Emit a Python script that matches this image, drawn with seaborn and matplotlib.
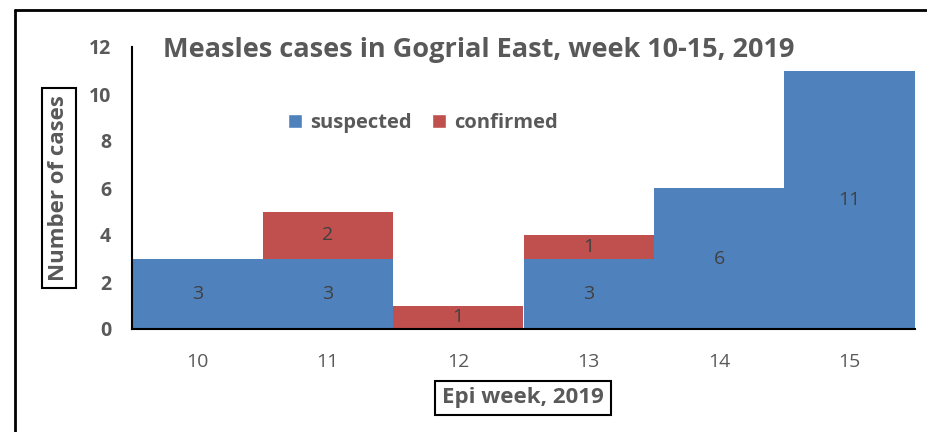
import matplotlib
matplotlib.use("Agg")
import matplotlib.pyplot as plt
import seaborn as sns
import pandas as pd
from matplotlib.patches import Patch

# ---------------------------------------------------------------------------
# Data
# ---------------------------------------------------------------------------
weeks     = ["10", "11", "12", "13", "14", "15"]
suspected = [3, 3, 0, 3, 6, 11]
confirmed = [0, 2, 1, 1, 0, 0]
y_ticks   = [0, 2, 4, 6, 8, 10, 12]

BLUE = "#4F81BD"
RED  = "#C0504D"
GREY = "#595959"

sns.set_style("white")
plt.rcParams["font.family"] = ["Open Sans", "DejaVu Sans"]

df = pd.DataFrame({"week": weeks, "suspected": suspected, "confirmed": confirmed})

fig = plt.figure(figsize=(9.28, 4.32), dpi=100)
ax = fig.add_axes([132 / 928, 1 - 329 / 432, (915 - 132) / 928, (329 - 47) / 432])

sns.barplot(data=df, x="week", y="suspected", color=BLUE, width=1.0,
            saturation=1, ax=ax, linewidth=0)
sns.barplot(data=df, x="week", y="confirmed", color=RED, width=1.0,
            saturation=1, ax=ax, linewidth=0, bottom=df["suspected"])

for cont, vals in zip(ax.containers, [suspected, confirmed]):
    ax.bar_label(cont, labels=[str(v) if v > 0 else "" for v in vals],
                 label_type="center", color="#404040", fontsize=14)

ax.set_xlim(-0.5, 5.5)
ax.set_ylim(0, 12)
ax.set_yticks(y_ticks)
ax.set_yticklabels([str(t) for t in y_ticks], fontweight="bold", color=GREY, fontsize=14)
ax.tick_params(axis="y", pad=15, length=0)
ax.tick_params(axis="x", pad=17, length=0, labelsize=14, labelcolor=GREY)

for s in ["top", "right"]:
    ax.spines[s].set_visible(False)
for s in ["left", "bottom"]:
    ax.spines[s].set_color("black")
    ax.spines[s].set_linewidth(1.5)

ax.set_xlabel("")
ax.set_ylabel("")

# boxed axis titles
box = dict(boxstyle="square,pad=0.3", facecolor="white", edgecolor="black", linewidth=1.5)
fig.text(59 / 928, 1 - 188 / 432, "Number of cases", rotation=90, ha="center", va="center",
         fontsize=16, fontweight="bold", color=GREY, bbox=box)
fig.text(523 / 928, 1 - 398 / 432, "Epi week, 2019", ha="center", va="center",
         fontsize=16, fontweight="bold", color=GREY, bbox=box)

# title inside plot area
fig.text(479 / 928, 1 - 50 / 432, "Measles cases in Gogrial East, week 10-15, 2019",
         ha="center", va="center", fontsize=19.5, fontweight="bold", color=GREY)

handles = [Patch(facecolor=BLUE, label="suspected"), Patch(facecolor=RED, label="confirmed")]
leg = fig.legend(handles=handles, loc="center", bbox_to_anchor=(423 / 928, 1 - 123 / 432),
                 ncol=2, frameon=False, handlelength=0.7, handleheight=0.7,
                 handletextpad=0.4, columnspacing=1.0, prop={"weight": "bold", "size": 14.5})
for t in leg.get_texts():
    t.set_color(GREY)

# outer chart frame (clipped on the right/bottom like the screenshot)
fig.add_artist(plt.Line2D([15 / 928, 1], [1 - 10 / 432, 1 - 10 / 432],
                          transform=fig.transFigure, color="black", linewidth=2))
fig.add_artist(plt.Line2D([15 / 928, 15 / 928], [0, 1 - 10 / 432],
                          transform=fig.transFigure, color="black", linewidth=2))

fig.savefig("out.png", dpi=100)
